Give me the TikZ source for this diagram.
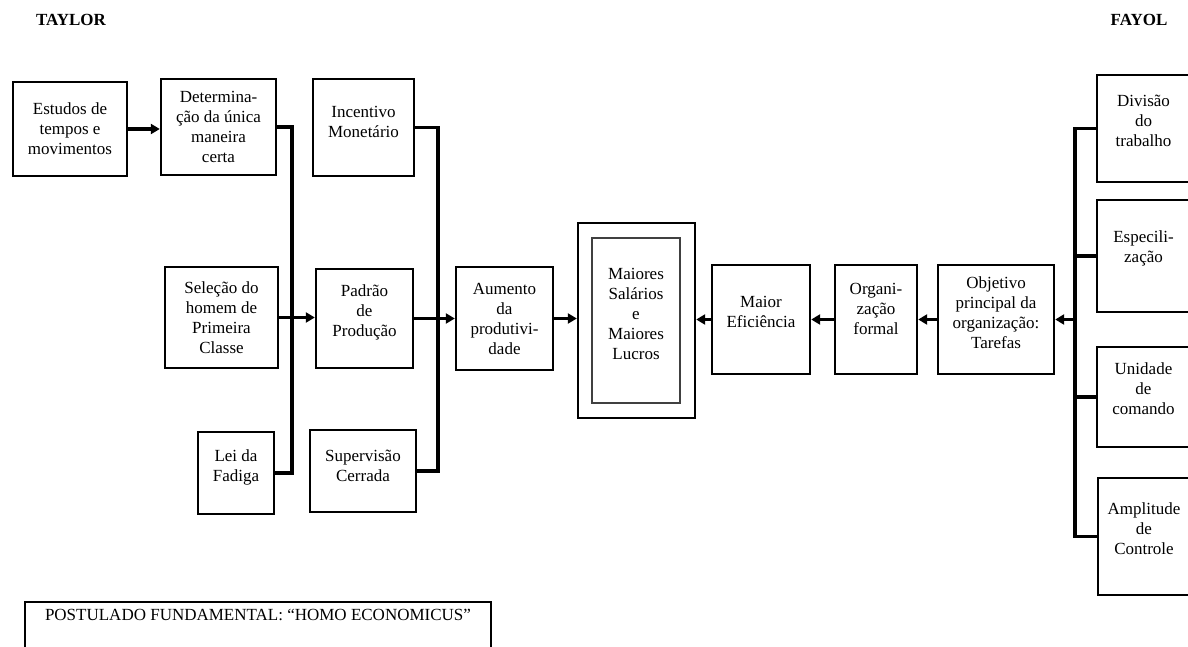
\documentclass[tikz,border=0pt]{standalone}
\usepackage{fontspec}
\setmainfont{Liberation Serif}
\usetikzlibrary{arrows.meta}

\begin{document}
\begin{tikzpicture}[x=1pt, y=-1pt,
		box/.style={draw, line width=2.4pt, align=center, inner sep=1pt, font={\fontsize{17}{20}\selectfont}},
		size/.style 2 args={minimum width=#1pt, minimum height=#2pt},
		lift/.style={execute at end node={\rule[-#1pt]{0pt}{#1pt}}},
		link/.style={line width=3.5pt},
		arrow/.style={link, -{Triangle[length=9pt, width=10pt]}},
		head/.style={font={\fontsize{17}{20}\selectfont\bfseries}}
		]
		\useasboundingbox (0,0) rectangle (1188,647);
		
		% Labels
		\node[head] (taylor) at (71,20) {TAYLOR};
		\node[head] (fayol) at (1139,20) {FAYOL};
		
		% Taylor
		\node[box, size={114}{94}] (est) at (70,129) {Estudos de\\tempos e\\movimentos};
		\node[box, size={115}{96}] (det) at (218.5,127) {Determina-\\ção da única\\maneira\\certa};
		\node[box, size={113}{101}] (sel) at (221.5,317.5) {Seleção do\\homem de\\Primeira\\Classe};
		\node[box, size={76}{82}, lift=14] (lei) at (236,473) {Lei da\\Fadiga};
		\node[box, size={101}{97}, lift=12] (inc) at (363.5,127.5) {Incentivo\\Monetário};
		\node[box, size={97}{99}, lift=16] (pad) at (364.5,318.5) {Padrão\\de\\Produção};
		\node[box, size={106}{82}, lift=10] (sup) at (363,471) {Supervisão\\Cerrada};
		\node[box, size={97}{103}] (aum) at (504.5,318.5) {Aumento\\da\\produtivi-\\dade};
		
		% Result
		\node[box, size={117}{195}] (outer) at (636.5,320.5) {};
		\node[box, size={88}{165}, draw=black!75, lift=14] (result) at (636,320.5) {Maiores\\Salários\\e\\Maiores\\Lucros};
		
		% Fayol
		\node[box, size={98}{109}, lift=16] (efi) at (761,319.5) {Maior\\Eficiência};
		\node[box, size={82}{109}, lift=22] (org) at (876,319.5) {Organi-\\zação\\formal};
		\node[box, size={116}{109}, lift=14] (obj) at (996,319.5) {Objetivo\\principal da\\organização:\\Tarefas};
		\node[box, size={93}{107}, lift=16] (div) at (1143.5,128.5) {Divisão\\do\\trabalho};
		\node[box, size={93}{112}, lift=18] (esp) at (1143.5,256) {Especili-\\zação};
		\node[box, size={93}{100}, lift=16] (uni) at (1143.5,397) {Unidade\\de\\comando};
		\node[box, size={92}{117}, lift=16] (amp) at (1144,536.5) {Amplitude\\de\\Controle};
		
		\node[box, anchor=north, minimum width=466pt, inner ysep=7pt, text depth=40pt] (post) at (258,601) {POSTULADO FUNDAMENTAL: “HOMO ECONOMICUS”};
		
		% Buses
		\coordinate (busA) at (292,0);
		\coordinate (busB) at (438,0);
		\coordinate (busC) at (1075,0);
		
		% Arrows
		\draw[arrow] (est.east) -- (est.east -| det.west);
		\draw[link] (det.east) -- (det.east -| busA) -- (lei.east -| busA) -- (lei.east);
		\draw[arrow] (sel.east) -- (sel.east -| pad.west);
		\draw[link] (inc.east) -- (inc.east -| busB) -- (sup.east -| busB) -- (sup.east);
		\draw[arrow] (pad.east) -- (pad.east -| aum.west);
		\draw[arrow] (aum.east) -- (aum.east -| outer.west);
		\draw[arrow] (efi.west) -- (efi.west -| outer.east);
		\draw[arrow] (org.west) -- (org.west -| efi.east);
		\draw[arrow] (obj.west) -- (obj.west -| org.east);
		\draw[link] (div.west) -- (div.west -| busC) -- (amp.west -| busC) -- (amp.west);
		\draw[link] (esp.west) -- (esp.west -| busC);
		\draw[link] (uni.west) -- (uni.west -| busC);
		\draw[arrow] (obj.east -| busC) -- (obj.east);
		
	\end{tikzpicture}
\end{document}
